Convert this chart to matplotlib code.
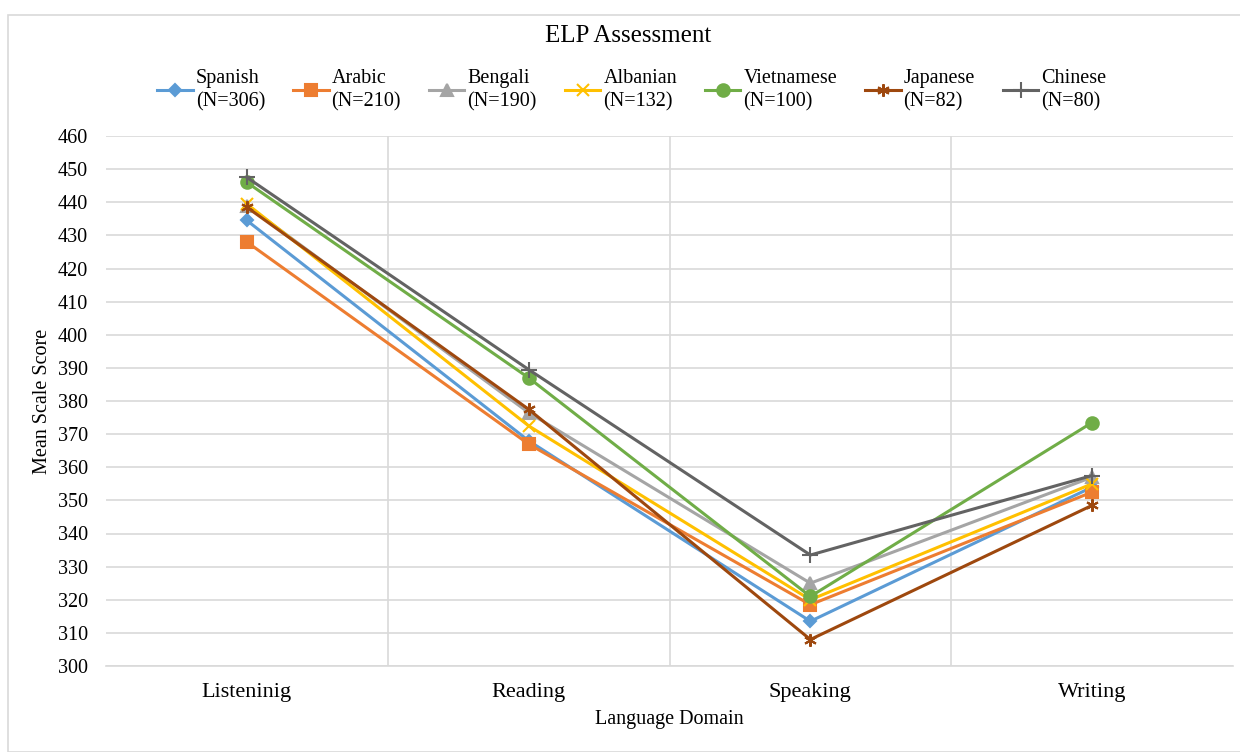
import matplotlib.pyplot as plt
from matplotlib.patches import Rectangle

domains = ["Listeninig", "Reading", "Speaking", "Writing"]
languages = ["Spanish", "Arabic", "Bengali", "Albanian", "Vietnamese", "Japanese", "Chinese"]
counts = [306, 210, 190, 132, 100, 82, 80]

spanish = [434.5, 368, 313.5, 354]
arabic = [428, 367, 318.5, 352.5]
bengali = [439, 376.5, 325, 357]
albanian = [439.5, 372.5, 320, 355]
vietnamese = [446, 387, 321, 373.5]
japanese = [438.5, 377.5, 308, 348.5]
chinese = [447.5, 389.5, 333.5, 357.5]

series = [spanish, arabic, bengali, albanian, vietnamese, japanese, chinese]
colors = ["#5B9BD5", "#ED7D31", "#A5A5A5", "#FFC000", "#70AD47", "#9E480E", "#636363"]
markers = ["D", "s", "^", "x", "o", (6, 2, 0), "+"]
msizes = [6, 8, 8, 9, 9, 9, 11]

plt.rcParams['font.family'] = ['Liberation Serif', 'DejaVu Serif']

fig = plt.figure(figsize=(12.4, 7.52), dpi=100)
fig.patches.append(Rectangle((8 / 1240, 0), 1.0, 1 - 15 / 752, transform=fig.transFigure,
                             fill=False, edgecolor="#D9D9D9", linewidth=1.2))
ax = fig.add_axes([106 / 1240, 1 - 666 / 752, 1127 / 1240, 530 / 752])

x = list(range(len(domains)))
for vals, lang, n, c, m, ms in zip(series, languages, counts, colors, markers, msizes):
    ax.plot(x, vals, color=c, linewidth=2.2, marker=m, markersize=ms,
            markeredgewidth=1.5, label=f"{lang}\n(N={n})")

ax.set_xlim(-0.5, 3.5)
ax.set_ylim(300, 460)
ax.set_yticks(range(300, 461, 10))
ax.set_xticks(x)
ax.set_xticklabels(domains, fontsize=16)
ax.tick_params(axis="y", length=0, pad=13, labelsize=14.5)
ax.tick_params(axis="x", length=0, pad=12)
for s in ["top", "right", "left"]:
    ax.spines[s].set_visible(False)
ax.spines["bottom"].set_color("#D9D9D9")
ax.spines["bottom"].set_linewidth(1.2)
ax.grid(axis="y", color="#D9D9D9", linewidth=1.2)
for xv in [0.5, 1.5, 2.5]:
    ax.axvline(xv, color="#D9D9D9", linewidth=1.2, zorder=0)
ax.set_axisbelow(True)

ax.set_ylabel("Mean Scale Score", fontsize=14.5, labelpad=4)
ax.set_xlabel("Language Domain", fontsize=14.5, labelpad=6)
fig.text(628 / 1240, 1 - 36 / 752, "ELP Assessment", ha="center", va="center", fontsize=18)

leg = fig.legend(loc="center", bbox_to_anchor=(632 / 1240, 1 - 90 / 752), ncol=7, frameon=False,
                 fontsize=14.5, handlelength=1.75, handletextpad=0.15, columnspacing=1.4)
for t in leg.get_texts():
    t.set_linespacing(1.3)

fig.savefig("out.png", dpi=100)
